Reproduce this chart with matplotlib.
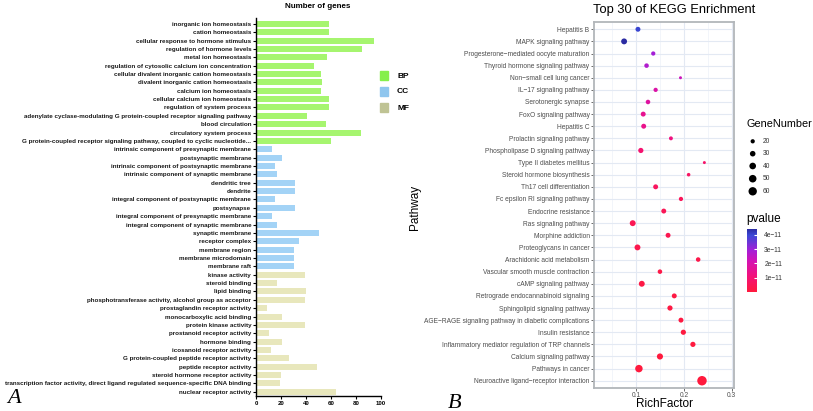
import matplotlib
matplotlib.use("Agg")
import matplotlib.pyplot as plt
import numpy as np
from matplotlib.colors import LinearSegmentedColormap, Normalize
from matplotlib.cm import ScalarMappable
from matplotlib.patches import Rectangle

plt.rcParams["font.family"] = ["Liberation Sans", "DejaVu Sans"]

# ---- panel A: GO enrichment bar chart ----
go_terms = [
    "inorganic ion homeostasis",
    "cation homeostasis",
    "cellular response to hormone stimulus",
    "regulation of hormone levels",
    "metal ion homeostasis",
    "regulation of cytosolic calcium ion concentration",
    "cellular divalent inorganic cation homeostasis",
    "divalent inorganic cation homeostasis",
    "calcium ion homeostasis",
    "cellular calcium ion homeostasis",
    "regulation of system process",
    "adenylate cyclase-modulating G protein-coupled receptor signaling pathway",
    "blood circulation",
    "circulatory system process",
    "G protein-coupled receptor signaling pathway, coupled to cyclic nucleotide...",
    "intrinsic component of presynaptic membrane",
    "postsynaptic membrane",
    "intrinsic component of postsynaptic membrane",
    "intrinsic component of synaptic membrane",
    "dendritic tree",
    "dendrite",
    "integral component of postsynaptic membrane",
    "postsynapse",
    "integral component of presynaptic membrane",
    "integral component of synaptic membrane",
    "synaptic membrane",
    "receptor complex",
    "membrane region",
    "membrane microdomain",
    "membrane raft",
    "kinase activity",
    "steroid binding",
    "lipid binding",
    "phosphotransferase activity, alcohol group as acceptor",
    "prostaglandin receptor activity",
    "monocarboxylic acid binding",
    "protein kinase activity",
    "prostanoid receptor activity",
    "hormone binding",
    "icosanoid receptor activity",
    "G protein-coupled peptide receptor activity",
    "peptide receptor activity",
    "steroid hormone receptor activity",
    "transcription factor activity, direct ligand regulated sequence-specific DNA binding",
    "nuclear receptor activity",
]
go_counts = [
    58, 58, 94, 85, 57, 46, 52, 53, 52, 58, 58, 41, 56, 84, 60,
    13, 21, 15, 17, 31, 31, 15, 31, 13, 17, 50, 34, 30, 30, 30,
    39, 17, 40, 39, 9, 21, 39, 10, 21, 12, 26, 49, 20, 19, 64,
]
go_class = ["BP"] * 15 + ["CC"] * 15 + ["MF"] * 15
class_names = ["BP", "CC", "MF"]
bar_colors = {"BP": "#a6f56f", "CC": "#a3d3f6", "MF": "#e8e7bc"}
legend_colors = {"BP": "#86ef4c", "CC": "#8fc6ee", "MF": "#bfc394"}

# ---- panel B: KEGG enrichment dot plot ----
kegg_pathways = [
    "Hepatitis B",
    "MAPK signaling pathway",
    "Progesterone\u2212mediated oocyte maturation",
    "Thyroid hormone signaling pathway",
    "Non\u2212small cell lung cancer",
    "IL\u221217 signaling pathway",
    "Serotonergic synapse",
    "FoxO signaling pathway",
    "Hepatitis C",
    "Prolactin signaling pathway",
    "Phospholipase D signaling pathway",
    "Type II diabetes mellitus",
    "Steroid hormone biosynthesis",
    "Th17 cell differentiation",
    "Fc epsilon RI signaling pathway",
    "Endocrine resistance",
    "Ras signaling pathway",
    "Morphine addiction",
    "Proteoglycans in cancer",
    "Arachidonic acid metabolism",
    "Vascular smooth muscle contraction",
    "cAMP signaling pathway",
    "Retrograde endocannabinoid signaling",
    "Sphingolipid signaling pathway",
    "AGE\u2212RAGE signaling pathway in diabetic complications",
    "Insulin resistance",
    "Inflammatory mediator regulation of TRP channels",
    "Calcium signaling pathway",
    "Pathways in cancer",
    "Neuroactive ligand\u2212receptor interaction",
]
rich_factor = [
    0.104, 0.075, 0.136, 0.122, 0.193, 0.141, 0.125, 0.115, 0.116, 0.173,
    0.110, 0.243, 0.210, 0.141, 0.194, 0.158, 0.093, 0.167, 0.103, 0.230,
    0.150, 0.112, 0.180, 0.171, 0.194, 0.199, 0.219, 0.150, 0.106, 0.238,
]
gene_number = [
    25, 33, 20, 22, 13, 20, 22, 25, 25, 18,
    27, 13, 16, 25, 20, 25, 33, 25, 33, 22,
    22, 33, 25, 27, 25, 27, 27, 35, 49, 75,
]
pvalue = [
    4.0e-11, 4.4e-11, 2.9e-11, 2.7e-11, 2.3e-11, 1.9e-11, 1.8e-11, 1.5e-11, 1.4e-11, 1.2e-11,
    0.9e-11, 0.8e-11, 0.7e-11, 0.6e-11, 0.5e-11, 0.45e-11, 0.4e-11, 0.35e-11, 0.3e-11, 0.25e-11,
    0.2e-11, 0.15e-11, 0.12e-11, 0.1e-11, 0.08e-11, 0.06e-11, 0.05e-11, 0.03e-11, 0.01e-11, 0.001e-11,
]
size_breaks = [20, 30, 40, 50, 60]
pvalue_ticks = [1e-11, 2e-11, 3e-11, 4e-11]
pvalue_ticklabels = ["1e\u221211", "2e\u221211", "3e\u221211", "4e\u221211"]


def marker_area(n):
    # pixel diameter^2 ~ 1.3 n - 8, converted to pt^2 at 100 dpi
    d2 = np.maximum(1.3 * np.asarray(n, dtype=float) - 8, 4)
    return 0.5184 * d2


W, H = 813, 411
fig = plt.figure(figsize=(W / 100, H / 100), dpi=100)


def fx(px):
    return px / W


def fy(py):
    return 1 - py / H


# ---------- panel A ----------
axA = fig.add_axes([fx(256), fy(396), fx(381) - fx(256), fy(18) - fy(396)])
ypos = np.arange(len(go_terms))
axA.barh(
    ypos,
    go_counts,
    height=0.72,
    color=[bar_colors[c] for c in go_class],
    edgecolor="none",
)
axA.set_xlim(0, 100)
axA.set_ylim(44.5, -0.7)
axA.set_yticks(ypos)
axA.set_yticklabels(go_terms, fontsize=4.5, fontweight="bold", color="#1a1a1a")
axA.set_xticks([0, 20, 40, 60, 80, 100])
axA.tick_params(axis="x", labelsize=4.4, length=2, width=0.8, pad=1.5)
for lab in axA.get_xticklabels():
    lab.set_fontweight("bold")
axA.tick_params(axis="y", length=2.5, width=0.8, pad=1)
for side in ["top", "right"]:
    axA.spines[side].set_visible(False)
axA.spines["left"].set_linewidth(1.0)
axA.spines["bottom"].set_linewidth(1.0)
fig.text(fx(318), fy(6), "Number of genes", ha="center", va="center",
         fontsize=5.8, fontweight="bold")

legend_y = [76, 91.5, 108]
for name, ly in zip(class_names, legend_y):
    fig.patches.append(Rectangle((fx(380), fy(ly + 4.5)), fx(8), 9 / H,
                                 transform=fig.transFigure,
                                 color=legend_colors[name]))
    fig.text(fx(397), fy(ly), name, ha="left", va="center",
             fontsize=6, fontweight="bold")

fig.text(fx(7), fy(398), "A", ha="left", va="center", fontsize=16,
         fontstyle="italic", family="Liberation Serif")

# ---------- panel B ----------
cmap = LinearSegmentedColormap.from_list(
    "pv",
    [(0.0, "#ff1a3d"), (0.25, "#f3127a"), (0.5, "#d213b6"),
     (0.66, "#a41fd6"), (0.9, "#3b48d6"), (1.0, "#2b2ba2")],
)
norm = Normalize(vmin=0, vmax=4.4e-11)

axB = fig.add_axes([fx(594), fy(388), fx(734) - fx(594), fy(22) - fy(388)])
kpos = np.arange(len(kegg_pathways))
axB.scatter(rich_factor, kpos, s=marker_area(gene_number), c=pvalue,
            cmap=cmap, norm=norm, linewidths=0, zorder=3)
axB.set_xlim(0.012, 0.305)
axB.set_ylim(29.6, -0.6)
axB.set_yticks(kpos)
axB.set_yticklabels(kegg_pathways, fontsize=4.8, color="#4d4d4d")
axB.set_xticks([0.1, 0.2, 0.3])
axB.set_xticklabels(["0.1", "0.2", "0.3"], fontsize=4.8, color="#4d4d4d")
axB.set_xticks([0.05, 0.15, 0.25], minor=True)
axB.tick_params(axis="both", which="major", length=2, width=0.6,
                color="#555555", pad=1.2)
axB.tick_params(axis="x", which="minor", length=0)
axB.grid(True, which="major", color="#e3e9f3", linewidth=0.8, zorder=0)
axB.grid(True, which="minor", axis="x", color="#edf1f8", linewidth=0.5, zorder=0)
axB.set_axisbelow(True)
for sp in axB.spines.values():
    sp.set_color("#b2b6ba")
    sp.set_linewidth(1.3)

fig.text(fx(664), fy(404), "RichFactor", ha="center", va="center", fontsize=8.5)
fig.text(fx(415), fy(207), "Pathway", ha="center", va="center", fontsize=8.5,
         rotation=90)
fig.text(fx(674), fy(10), "Top 30 of KEGG Enrichment", ha="center",
         va="center", fontsize=9.3)
fig.text(fx(455), fy(403), "B", ha="center", va="center", fontsize=16,
         fontstyle="italic", family="Liberation Serif")

# size legend
fig.text(fx(746), fy(124), "GeneNumber", ha="left", va="center", fontsize=7.8)
axL = fig.add_axes([fx(744), fy(198), fx(800) - fx(744), fy(134) - fy(198)])
axL.set_xlim(0, 56)
axL.set_ylim(198, 134)
axL.axis("off")
leg_y = [141.3, 153.7, 166, 178.7, 191.3]
axL.scatter([8.7] * len(size_breaks), leg_y, s=marker_area(size_breaks),
            color="black", linewidths=0)
for v, ly in zip(size_breaks, leg_y):
    axL.text(19, ly, str(v), ha="left", va="center", fontsize=4.8,
             color="#333333")

# colour bar
fig.text(fx(746), fy(219), "pvalue", ha="left", va="center", fontsize=8.5)
axC = fig.add_axes([fx(746.7), fy(292), fx(757.3) - fx(746.7), fy(229) - fy(292)])
cb = fig.colorbar(ScalarMappable(norm=norm, cmap=cmap), cax=axC,
                  ticks=pvalue_ticks)
cb.ax.set_yticklabels(pvalue_ticklabels, fontsize=4.8, color="#333333")
cb.ax.tick_params(length=2, color="white", direction="in", pad=5)
cb.outline.set_visible(False)

fig.savefig("out.png", dpi=100)
